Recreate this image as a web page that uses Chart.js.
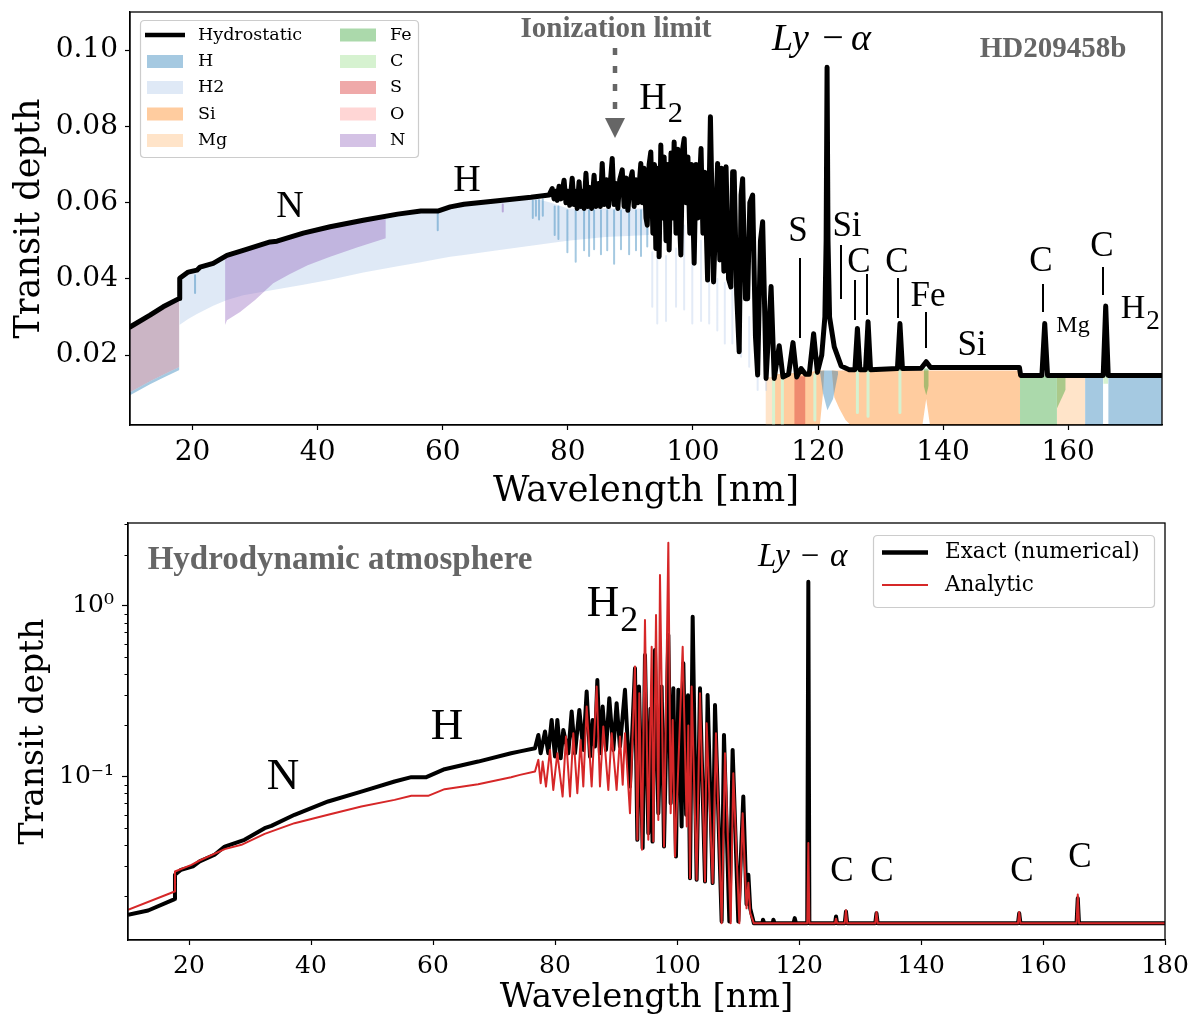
<!DOCTYPE html>
<html><head><meta charset="utf-8">
<script src="https://cdn.jsdelivr.net/npm/chart.js@4.4.1/dist/chart.umd.min.js"></script>
<style>
html,body{margin:0;padding:0;background:#fff;}
body{width:1189px;height:1016px;position:relative;overflow:hidden;}
.box{position:absolute;left:0;width:1189px;}
</style></head><body>
<div class="box" style="top:0;height:510px"><canvas id="c1" width="1189" height="510"></canvas></div>
<div class="box" style="top:510px;height:506px"><canvas id="c2" width="1189" height="506"></canvas></div>
<script>
// ---------------- DATA ----------------
const topXTicks = [20,40,60,80,100,120,140,160];
const topYTicks = [0.02,0.04,0.06,0.08,0.10];
const botXTicks = [20,40,60,80,100,120,140,160,180];
const botYTicks = [0.1,1];

// Hydrostatic total transit depth [wavelength nm, depth]
const hydrostatic = [
[10,0.0274],[13.2,0.0305],[15.3,0.0327],[17.9,0.0349],[17.95,0.0402],[19.3,0.0418],[20.7,0.0423],[21.2,0.0431],
[23.3,0.0441],[25.5,0.0462],[28.1,0.0475],[32.4,0.0497],[33.5,0.0499],[37.7,0.0520],[42,0.0537],[47.3,0.0554],
[52.8,0.0570],[56.5,0.0578],[59.2,0.0578],[61.2,0.0589],[63.4,0.0596],[68.8,0.0605],[74.1,0.0614],[77.0,0.0620],
[77.5,0.0637],[77.8,0.0610],[78.05,0.0630],[78.3,0.0606],[78.6,0.0643],[78.9,0.0610],[79.1,0.0630],[79.4,0.0659],
[79.7,0.0600],[80.0,0.0630],[80.3,0.0593],[80.7,0.0664],[81.0,0.0595],[81.2,0.0630],[81.5,0.0585],[81.8,0.0655],
[82.1,0.0590],[82.4,0.0630],[82.6,0.0585],[82.9,0.0677],[83.2,0.0590],[83.5,0.0640],[83.8,0.0585],[84.2,0.0672],
[84.5,0.0590],[84.9,0.0650],[85.2,0.0590],[85.5,0.0703],[85.8,0.0595],[86.2,0.0660],[86.5,0.0590],[87.1,0.0716],
[87.4,0.0595],[87.7,0.0650],[88.0,0.0585],[88.3,0.0660],[88.7,0.0686],[89.0,0.0590],[89.3,0.0665],[89.6,0.0580],
[90.0,0.0660],[90.3,0.0681],[90.6,0.0590],[90.9,0.0660],[91.2,0.0600],[91.67,0.0703],[91.9,0.0600],[92.2,0.0690],
[92.5,0.0560],[92.7,0.0541],[93.0,0.0700],[93.27,0.0733],[93.6,0.0520],[93.85,0.0700],[94.07,0.0480],[94.3,0.0690],
[94.6,0.0458],[94.87,0.0751],[95.1,0.0560],[95.4,0.0720],[95.7,0.0500],[96.0,0.0700],[96.2,0.0476],[96.5,0.0730],
[96.75,0.0560],[97.0,0.0759],[97.3,0.0520],[97.6,0.0740],[97.85,0.0560],[98.07,0.0463],[98.35,0.0740],[98.61,0.0768],
[98.9,0.0600],[99.2,0.0720],[99.5,0.0520],[99.8,0.0700],[100.2,0.0441],[100.5,0.0700],[100.8,0.0560],[101.3,0.0742],
[101.6,0.0520],[101.9,0.0680],[102.35,0.0397],[102.8,0.0825],[103.3,0.0392],[103.95,0.0703],[104.3,0.0450],[104.6,0.0690],
[104.95,0.0420],[105.3,0.0694],[105.7,0.0400],[106.08,0.0379],[106.35,0.0681],[106.6,0.0681],[107.0,0.0360],[107.4,0.0209],
[107.7,0.0620],[107.95,0.0663],[108.4,0.0348],[108.75,0.0348],[109.1,0.0600],[109.55,0.0620],[110.0,0.0250],[110.35,0.0148],
[110.8,0.0500],[111.15,0.0550],[111.5,0.0300],[111.7,0.0139],[112.5,0.0380],[113.0,0.0139],[113.8,0.0225],[114.4,0.0143],
[115.3,0.0150],[116.0,0.0233],[116.6,0.0143],[117.3,0.0165],[118.0,0.0150],[118.6,0.0150],[119.3,0.0256],[119.9,0.0155],
[120.6,0.0200],[121.1,0.0300],[121.3,0.0500],[121.45,0.0955],[121.6,0.0500],[121.85,0.0300],[122.6,0.0222],[123.7,0.0172],
[125.0,0.0162],[125.9,0.0162],[126.3,0.0270],[126.7,0.0162],[127.6,0.0162],[128.0,0.0288],[128.4,0.0162],[132.7,0.0165],
[133.1,0.0283],[133.5,0.0165],[136.5,0.0166],[137.3,0.0183],[138.0,0.0168],[152.2,0.0168],[152.4,0.0147],[155.8,0.0147],
[156.25,0.0283],[156.7,0.0147],[165.6,0.0147],[166.0,0.0329],[166.4,0.0147],[175,0.0147]
];

// Species contribution bands [wl, lower, upper]  or [wl, upper] (down to axis)
const bandMix = [[10,0.0103,0.0274],[13.2,0.0132,0.0305],[15.3,0.0149,0.0327],[17.9,0.0169,0.0349]];
const bandHLeft = [[10,0.0095,0.0103],[13.2,0.0124,0.0132],[15.3,0.0141,0.0149],[17.9,0.0161,0.0169]];
const bandH2 = [[17.9,0.0279,0.0400],[19.3,0.0295,0.0418],[20.7,0.0308,0.0423],[23.3,0.0330,0.0441],[25.5,0.0345,0.0462],
[28.1,0.0357,0.0475],[32.4,0.0370,0.0497],[37.7,0.0385,0.0520],[42,0.0398,0.0537],[47.3,0.0417,0.0554],[52.8,0.0433,0.0570],
[56.5,0.0444,0.0578],[59.2,0.0452,0.0578],[61.2,0.0458,0.0589],[63.4,0.0463,0.0596],[68.8,0.0475,0.0605],[74.1,0.0487,0.0614],
[77.3,0.0494,0.0600],[80,0.0500,0.0585],[86,0.0510,0.0585],[93,0.0515,0.0585]];
const bandN = [[25.2,0.0279,0.0460],[25.5,0.0292,0.0462],[27.6,0.0313,0.0473],[30,0.0345,0.0485],[32.9,0.0389,0.0498],
[35.5,0.0412,0.0510],[38.4,0.0436,0.0522],[42,0.0458,0.0537],[46.4,0.0483,0.0551],[50.9,0.0507,0.0565]];
const bandSi = [[113.0,0.0017,0.0150],[118.3,0.0017,0.0155],[120.3,0.0017,0.0160],[120.8,0.0100,0.0160],[121.0,0.0160,0.0160],
[122.2,0.0160,0.0160],[122.6,0.0090,0.0160],[123.4,0.0060,0.0160],[124.4,0.0030,0.0160],[125.2,0.0017,0.0160],[136.7,0.0017,0.0160],
[137.3,0.0085,0.0160],[137.9,0.0017,0.0160],[152.3,0.0017,0.0160]];
const bandMgLeft = [[111.6,0.0143],[113.0,0.0143]];
const bandHLya = [[120.3,0.0158,0.0158],[120.8,0.0100,0.0160],[121.5,0.0056,0.0160],[122.4,0.0085,0.0160],[123.2,0.0150,0.0158]];
const bandS = [[116.2,0.0145],[118.0,0.0145]];
const bandFeNotch = [[136.9,0.0120,0.0165],[137.3,0.0095,0.0165],[137.7,0.0120,0.0165]];
const bandFeRight = [[152.3,0.0146],[158.2,0.0146]];
const bandFeOver = [[158.2,0.0060,0.0146],[159.6,0.0110,0.0146]];
const bandMgRight = [[158.2,0.0146],[162.7,0.0146]];
const bandHRightA = [[162.7,0.0146],[165.6,0.0146]];
const bandHRightB = [[166.4,0.0146],[175,0.0146]];
const bandCNotch = [[165.6,0.0125,0.0146],[166.4,0.0125,0.0146]];

// Absorption line features [wl, top, bottom]
const linesH = [[20.4,0.0410,0.0363],[59.2,0.0572,0.0528],[74.4,0.0605,0.0560],[74.9,0.0606,0.0566],[75.4,0.0607,0.0556],
[76.0,0.0609,0.0566],[77.9,0.0590,0.0515],[78.5,0.0590,0.0505],[79.93,0.0580,0.0470],[81.26,0.0580,0.0445],[82.6,0.0580,0.0475],
[83.4,0.0580,0.0460],[84.2,0.0580,0.0478],[85.3,0.0580,0.0465],[86.3,0.0580,0.0475],[87.4,0.0580,0.0440],[88.5,0.0580,0.0478],
[89.8,0.0580,0.0465],[90.9,0.0580,0.0475],[91.7,0.0580,0.0460],[92.7,0.0580,0.0485]];
const linesN = [[69.6,0.0595,0.0577]];
const linesH2 = [[93.5,0.047,0.0327],[94.3,0.046,0.0283],[95.7,0.046,0.0290],[97.3,0.048,0.0327],[98.6,0.054,0.0320],
[99.9,0.044,0.0283],[101.3,0.050,0.0290],[102.6,0.040,0.0283],[103.9,0.040,0.0265],[105.1,0.039,0.0231],[106.3,0.039,0.0231],
[107.7,0.022,0.0196],[109.0,0.030,0.0170],[110.35,0.015,0.0109],[111.7,0.015,0.0109]];
const linesC = [[112.9,0.0143,0.0017],[114.3,0.0143,0.0017],[119.5,0.0150,0.0030],[126.3,0.0160,0.0050],[128.0,0.0160,0.0040],[133.1,0.0160,0.0050]];

// Hydrodynamic atmosphere: exact (numerical) and analytic [wl, depth]
const exactDepth = [
[10,0.0156],[13.3,0.01652],[17.65,0.01927],[17.7,0.02673],[18.7,0.02858],[20.65,0.02991],[21.75,0.03199],[24.2,0.0350],
[25.85,0.03912],[29.1,0.04283],[32.4,0.0501],[33.5,0.05169],[37.3,0.05998],[42.8,0.07178],[48.25,0.08204],[53.7,0.09394],
[56.45,0.0996],[58.9,0.0996],[61.9,0.1109],[67.4,0.1229],[72.8,0.1375],[74.26,0.141],[76.72,0.147],
[77.27,0.176],[77.65,0.1375],[78.36,0.1841],[78.9,0.1375],[79.45,0.2154],[80.0,0.1315],[80.38,0.2154],[80.93,0.1285],
[81.36,0.1883],[82.18,0.1375],[82.73,0.241],[83.28,0.1375],[83.99,0.2465],[84.64,0.1438],[85.19,0.3155],[85.74,0.1315],
[86.17,0.2154],[86.55,0.1504],[86.94,0.369],[87.37,0.1375],[87.81,0.2578],[88.36,0.1438],[88.9,0.2884],[89.56,0.1438],
[90.1,0.2697],[90.65,0.1504],[91.47,0.323],[92.29,0.0878],[93.11,0.432],[93.5,0.0428],[93.77,0.3375],[94.37,0.0383],
[94.75,0.517],[95.3,0.0468],[95.65,0.25],[95.99,0.0418],[96.39,0.553],[96.94,0.0613],[97.48,0.3375],[97.87,0.0391],
[98.58,0.677],[98.96,0.0701],[99.4,0.33],[99.83,0.0342],[100.22,0.323],[100.76,0.0512],[101.04,0.462],[101.5,0.060],
[101.8,0.30],[102.13,0.0255],[102.57,0.866],[103.22,0.025],[103.77,0.33],[104.59,0.0244],[105.02,0.3016],[105.84,0.0239],
[106.23,0.2636],[107.32,0.01426],[107.7,0.176],[108.58,0.01426],[109.12,0.1438],[110.05,0.01426],[110.87,0.0767],[111.4,0.018],
[111.7,0.0267],[112.0,0.017],[112.6,0.0139],[114.0,0.0139],[114.1,0.0146],[114.3,0.0139],[115.7,0.0139],[115.8,0.0146],
[116.0,0.0139],[119.1,0.0139],[119.3,0.0149],[119.5,0.0139],[121.35,0.0139],[121.53,1.387],[121.7,0.0139],[125.9,0.0139],
[126.07,0.01525],[126.25,0.0139],[127.5,0.0139],[127.7,0.0163],[127.9,0.0139],[132.5,0.0139],[132.7,0.0159],[132.9,0.0139],
[155.9,0.0139],[156.1,0.0159],[156.3,0.0139],[165.5,0.0139],[165.7,0.0195],[165.9,0.0139],[180,0.0139]
];
const analyticDepth = [
[10,0.01668],[17.65,0.02134],[17.7,0.02793],[20.4,0.03056],[21.75,0.0324],[25.85,0.03777],[28.6,0.04002],[32.4,0.04642],
[37.3,0.05358],[42.8,0.0600],[48.25,0.06707],[53.7,0.07336],[56.45,0.07745],[59.2,0.07745],[61.9,0.0847],[67.4,0.0906],
[72.8,0.0996],[74.26,0.1027],[76.72,0.1074],[77.27,0.1257],[77.65,0.0918],[77.98,0.1229],[78.52,0.0878],[79.18,0.1438],
[79.72,0.0839],[80.38,0.1375],[81.25,0.0767],[81.8,0.1721],[82.46,0.0767],[83.0,0.18],[83.66,0.0802],[84.2,0.1646],
[84.64,0.0878],[85.19,0.2578],[86.01,0.0878],[86.83,0.3375],[87.37,0.0878],[87.92,0.197],[88.74,0.0839],[89.29,0.18],
[90.1,0.0839],[90.65,0.1721],[91.1,0.090],[91.47,0.18],[92.29,0.0613],[93.11,0.4418],[93.5,0.0428],[93.82,0.3085],
[94.26,0.0374],[94.75,0.828],[95.3,0.0428],[95.85,0.578],[96.12,0.0418],[96.56,0.886],[96.94,0.056],[97.21,1.518],
[97.87,0.0391],[98.58,2.346],[98.96,0.0613],[99.29,0.2154],[99.67,0.0342],[100.93,0.578],[101.6,0.0512],[101.85,0.20],
[102.13,0.0255],[102.4,0.3375],[103.22,0.025],[103.77,0.3085],[104.59,0.0244],[104.86,0.206],[105.84,0.0239],[106.39,0.18],
[107.32,0.01393],[107.87,0.1375],[108.8,0.01393],[109.23,0.105],[110.22,0.01393],[110.76,0.0613],[111.4,0.017],[111.7,0.024],
[112.0,0.016],[112.6,0.0139],[121.35,0.0139],[121.53,0.041],[121.7,0.0139],[125.9,0.0139],[126.07,0.0148],[126.25,0.0139],
[127.5,0.0139],[127.7,0.0166],[127.9,0.0139],[132.5,0.0139],[132.7,0.0162],[132.9,0.0139],[155.9,0.0139],[156.1,0.0162],
[156.3,0.0139],[165.5,0.0139],[165.7,0.0205],[165.9,0.0139],[180,0.0139]
];

// ---------------- STYLE ----------------
const COL = {
  H:'rgba(31,119,180,0.4)', H2:'rgba(174,199,232,0.4)', Si:'rgba(255,127,14,0.4)', Mg:'rgba(255,187,120,0.4)',
  Fe:'rgba(44,160,44,0.4)', C:'rgba(152,223,138,0.4)', S:'rgba(214,39,40,0.4)', O:'rgba(255,152,150,0.4)', N:'rgba(148,103,189,0.4)'
};
const SERIF = '"DejaVu Serif"';
const TIMES = '"Liberation Serif"';

// ---------------- TOP DATASETS ----------------
const topDs = [];
topDs.push({label:'Hydrostatic', data: hydrostatic.map(p=>({x:p[0],y:p[1]})), borderColor:'#000', borderWidth:5,
  fill:false, borderJoinStyle:'round', borderCapStyle:'round'});
function addLines(arr,color,w){
  const d=[]; arr.forEach(p=>{d.push({x:p[0],y:p[1]},{x:p[0],y:p[2]},{x:p[0],y:null});});
  topDs.push({data:d,borderColor:color,borderWidth:w,fill:false,spanGaps:false});
}
function addBand(arr,color){
  const i = topDs.length;
  if (arr[0].length === 2) {
    topDs.push({data:arr.map(p=>({x:p[0],y:p[1]})),borderWidth:0,borderColor:'rgba(0,0,0,0)',backgroundColor:color,fill:'start'});
  } else {
    topDs.push({data:arr.map(p=>({x:p[0],y:p[2]})),borderWidth:0,borderColor:'rgba(0,0,0,0)',backgroundColor:color,fill:i+1});
    topDs.push({data:arr.map(p=>({x:p[0],y:p[1]})),borderWidth:0,borderColor:'rgba(0,0,0,0)',fill:false});
  }
}
addLines(linesH,'rgba(31,119,180,0.4)',2);
addLines(linesN,'rgba(148,103,189,0.5)',2);
addLines(linesH2,'rgba(174,199,232,0.35)',2);
addLines(linesC,'rgb(214,242,208)',3);
addBand(bandCNotch,'rgb(214,242,208)');
addBand(bandFeNotch,COL.Fe);
addBand(bandHLya,COL.H);
addBand(bandS,COL.S);
addBand(bandSi,COL.Si);
addBand(bandMgLeft,COL.Mg);
addBand(bandFeOver,COL.Fe);
addBand(bandFeRight,COL.Fe);
addBand(bandMgRight,COL.Mg);
addBand(bandHRightA,COL.H);
addBand(bandHRightB,COL.H);
addBand(bandN,COL.N);
addBand(bandH2,COL.H2);
addBand(bandHLeft,COL.H);
addBand(bandMix,'rgb(203,181,197)');

// ---------------- HELPERS ----------------
function T(ctx,s,x,y,o){o=o||{};ctx.save();
  ctx.font=(o.style||'normal')+' '+(o.weight||'normal')+' '+(o.size||35)+'px '+(o.family||TIMES);
  ctx.fillStyle=o.color||'#000';ctx.textAlign=o.align||'center';ctx.textBaseline='middle';ctx.fillText(s,x,y);ctx.restore();}
function H2lab(ctx,x,y,size){ctx.save();ctx.font=size+'px '+TIMES;const w=ctx.measureText('H').width;ctx.restore();
  T(ctx,'H',x,y,{size});T(ctx,'2',x+w/2+1,y+0.39*size,{size:size*0.8,align:'left'});}
function lya(ctx,xL,xM,xA,y,size){T(ctx,'Ly',xL,y,{size,style:'italic',align:'left'});T(ctx,'\u2212',xM,y,{size});
  T(ctx,'\u03b1',xA,y,{size,style:'italic',align:'left'});}
function vline(ctx,x,y0,y1,w,c){ctx.save();ctx.strokeStyle=c||'#000';ctx.lineWidth=w;ctx.beginPath();ctx.moveTo(x,y0);ctx.lineTo(x,y1);ctx.stroke();ctx.restore();}
function frame(chart){const a=chart.chartArea,ctx=chart.ctx;ctx.save();ctx.strokeStyle='#000';ctx.lineWidth=1.3;
  ctx.strokeRect(a.left,a.top,a.right-a.left,a.bottom-a.top);ctx.restore();}
function rrect(ctx,x,y,w,h,r){ctx.beginPath();ctx.moveTo(x+r,y);ctx.lineTo(x+w-r,y);ctx.quadraticCurveTo(x+w,y,x+w,y+r);
  ctx.lineTo(x+w,y+h-r);ctx.quadraticCurveTo(x+w,y+h,x+w-r,y+h);ctx.lineTo(x+r,y+h);ctx.quadraticCurveTo(x,y+h,x,y+h-r);
  ctx.lineTo(x,y+r);ctx.quadraticCurveTo(x,y,x+r,y);ctx.closePath();}

function xScale(min,max,ticks,fs,ts,h){
  return {type:'linear',min,max,
    afterBuildTicks:s=>{s.ticks=ticks.map(v=>({value:v}));},
    afterFit:s=>{s.height=h;s.paddingLeft=0;s.paddingRight=0;},
    ticks:{autoSkip:false,maxRotation:0,minRotation:0,color:'#000',padding:6,font:{family:SERIF,size:fs},callback:v=>String(v)},
    grid:{display:true,drawOnChartArea:false,drawTicks:true,tickLength:5,color:'#000',tickWidth:1.2},
    border:{display:true,color:'#000',width:1.3},
    title:{display:true,text:'Wavelength [nm]',color:'#000',font:{family:SERIF,size:ts},padding:{top:0,bottom:-3}}};
}

// ---------------- TOP CHART ----------------
const topDeco = {id:'topDeco', afterDraw(chart){
  const ctx=chart.ctx; frame(chart);
  T(ctx,'N',290,207,{size:38}); T(ctx,'H',467,181,{size:38}); H2lab(ctx,653,99,38);
  lya(ctx,772,833,851,40,38);
  T(ctx,'Ionization limit',616,30,{size:29,weight:'bold',color:'#666'});
  ctx.save();ctx.strokeStyle='#666';ctx.lineWidth=4.5;ctx.setLineDash([7,11]);ctx.beginPath();ctx.moveTo(615,48);ctx.lineTo(615,118);ctx.stroke();
  ctx.setLineDash([]);ctx.fillStyle='#666';ctx.beginPath();ctx.moveTo(605,118);ctx.lineTo(625,118);ctx.lineTo(615,138);ctx.closePath();ctx.fill();ctx.restore();
  T(ctx,'HD209458b',1053,50,{size:29,weight:'bold',color:'#666'});
  T(ctx,'S',798,232); T(ctx,'Si',847,227); T(ctx,'C',859,263); T(ctx,'C',897,263); T(ctx,'Fe',928,297);
  T(ctx,'Si',972,346); T(ctx,'C',1041,262); T(ctx,'Mg',1073,326,{size:24}); T(ctx,'C',1102,247); H2lab(ctx,1133,309,34);
  [[800,258,338],[841,245,299],[855,280,320],[867,274,315],[898,278,318],[926,312,348],[1043,284,312],[1103,267,295]]
    .forEach(l=>vline(ctx,l[0],l[1],l[2],2));
  // legend
  ctx.save(); rrect(ctx,140.5,20.5,278,137,4); ctx.fillStyle='rgba(255,255,255,0.85)'; ctx.fill();
  ctx.strokeStyle='#cccccc'; ctx.lineWidth=1.2; ctx.stroke(); ctx.restore();
  const rows=[35,61.5,87.5,114,140.5];
  ctx.save();ctx.strokeStyle='#000';ctx.lineWidth=4.5;ctx.beginPath();ctx.moveTo(145,35);ctx.lineTo(185,35);ctx.stroke();ctx.restore();
  const c1=[['H',COL.H],['H2',COL.H2],['Si',COL.Si],['Mg',COL.Mg]];
  const c2=[['Fe',COL.Fe],['C',COL.C],['S',COL.S],['O',COL.O],['N',COL.N]];
  T(ctx,'Hydrostatic',198,rows[0],{size:17.5,family:SERIF,align:'left'});
  c1.forEach((e,i)=>{ctx.fillStyle=e[1];ctx.fillRect(147,rows[i+1]-6.5,36,13);T(ctx,e[0],198,rows[i+1],{size:17.5,family:SERIF,align:'left'});});
  c2.forEach((e,i)=>{ctx.fillStyle=e[1];ctx.fillRect(340,rows[i]-6.5,36,13);T(ctx,e[0],390,rows[i],{size:17.5,family:SERIF,align:'left'});});
}};

new Chart(document.getElementById('c1'), {
  type:'line',
  data:{datasets:topDs},
  options:{responsive:false,animation:false,devicePixelRatio:1,
    layout:{padding:{left:0,top:12,right:27,bottom:0}},
    elements:{point:{radius:0,hoverRadius:0},line:{tension:0,borderJoinStyle:'round'}},
    plugins:{legend:{display:false},tooltip:{enabled:false}},
    scales:{
      x:xScale(10,175,topXTicks,28,35.5,85),
      y:{type:'linear',min:0.0017,max:0.11,
        afterBuildTicks:s=>{s.ticks=topYTicks.map(v=>({value:v}));},
        afterFit:s=>{s.width=130;s.paddingTop=0;s.paddingBottom=0;},
        ticks:{color:'#000',padding:7,font:{family:SERIF,size:28},callback:v=>v.toFixed(2)},
        grid:{display:true,drawOnChartArea:false,drawTicks:true,tickLength:5,color:'#000',tickWidth:1.2},
        border:{display:true,color:'#000',width:1.3},
        title:{display:true,text:'Transit depth',color:'#000',font:{family:SERIF,size:35},padding:{top:9,bottom:0}}}
    }},
  plugins:[topDeco]
});

// ---------------- BOTTOM CHART ----------------
const botDeco = {id:'botDeco', afterDraw(chart){
  const ctx=chart.ctx; frame(chart);
  const y=chart.scales.y, a=chart.chartArea;
  ctx.save();ctx.strokeStyle='#000';ctx.lineWidth=1;
  [0.01,0.1,1].forEach(d=>{for(let m=2;m<=9;m++){const v=m*d; if(v<y.min||v>y.max) continue; const py=Math.round(y.getPixelForValue(v))+0.5;
    ctx.beginPath();ctx.moveTo(a.left-3.5,py);ctx.lineTo(a.left,py);ctx.stroke();}});
  ctx.restore();
  T(ctx,'Hydrodynamic atmosphere',340,50,{size:33,weight:'bold',color:'#666'});
  T(ctx,'N',283,267,{size:45}); T(ctx,'H',447,217,{size:45}); H2lab(ctx,603,94,45);
  lya(ctx,758,810,830,47,33);
  T(ctx,'C',842,362); T(ctx,'C',882,362); T(ctx,'C',1022,362); T(ctx,'C',1080,348);
  // legend
  ctx.save(); rrect(ctx,873.5,25.5,281,72,4); ctx.fillStyle='rgba(255,255,255,0.85)'; ctx.fill();
  ctx.strokeStyle='#cccccc'; ctx.lineWidth=1.2; ctx.stroke();
  ctx.strokeStyle='#000';ctx.lineWidth=4.5;ctx.beginPath();ctx.moveTo(882,42.5);ctx.lineTo(928,42.5);ctx.stroke();
  ctx.strokeStyle='#d62728';ctx.lineWidth=1.8;ctx.beginPath();ctx.moveTo(882,75);ctx.lineTo(928,75);ctx.stroke();ctx.restore();
  T(ctx,'Exact (numerical)',945,42.5,{size:21.5,family:SERIF,align:'left'});
  T(ctx,'Analytic',945,75,{size:21.5,family:SERIF,align:'left'});
}};

new Chart(document.getElementById('c2'), {
  type:'line',
  data:{datasets:[
    {label:'Analytic',data:analyticDepth.map(p=>({x:p[0],y:p[1]})),borderColor:'#d62728',borderWidth:2,fill:false,borderJoinStyle:'round'},
    {label:'Exact (numerical)',data:exactDepth.map(p=>({x:p[0],y:p[1]})),borderColor:'#000',borderWidth:4,fill:false,borderJoinStyle:'round'}
  ]},
  options:{responsive:false,animation:false,devicePixelRatio:1,
    layout:{padding:{left:0,top:13,right:24,bottom:0}},
    elements:{point:{radius:0,hoverRadius:0},line:{tension:0}},
    plugins:{legend:{display:false},tooltip:{enabled:false}},
    scales:{
      x:xScale(10,180,botXTicks,25,34,76),
      y:{type:'logarithmic',min:0.0111,max:3.06,
        afterBuildTicks:s=>{s.ticks=botYTicks.map(v=>({value:v}));},
        afterFit:s=>{s.width=128;s.paddingTop=0;s.paddingBottom=0;},
        ticks:{color:'#000',padding:8,font:{family:SERIF,size:25},callback:v=>(Math.abs(v-1)<1e-9?'10\u2070':'10\u207b\u00b9')},
        grid:{display:true,drawOnChartArea:false,drawTicks:true,tickLength:6,color:'#000',tickWidth:1.2},
        border:{display:true,color:'#000',width:1.3},
        title:{display:true,text:'Transit depth',color:'#000',font:{family:SERIF,size:33},padding:{top:15,bottom:0}}}
    }},
  plugins:[botDeco]
});
</script></body></html>
